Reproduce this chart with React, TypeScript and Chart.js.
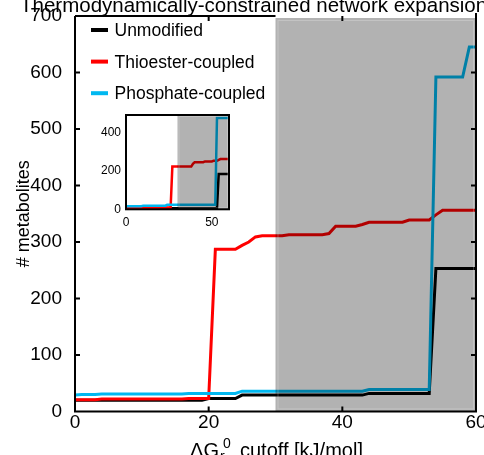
import React, { useEffect, useRef } from "react";
import { Chart, registerables } from "chart.js";
Chart.register(...registerables);

const FONT = "'Liberation Sans', Arial, Helvetica, sans-serif";

// ΔGr0 cutoff values (kJ/mol)
const cutoffs = [
  0, 1, 2, 3, 4, 5, 6, 7, 8, 9, 10, 11, 12, 13, 14, 15, 16, 17, 18, 19, 20,
  21, 22, 23, 24, 25, 26, 27, 28, 29, 30, 31, 32, 33, 34, 35, 36, 37, 38, 39, 40,
  41, 42, 43, 44, 45, 46, 47, 48, 49, 50, 51, 52, 53, 54, 55, 56, 57, 58, 59, 60,
];

// main panel series (# metabolites)
const unmodified = [
  20, 20, 20, 20, 20, 20, 20, 20, 20, 20, 20, 20, 20, 20, 20, 20, 20, 20, 20, 20,
  23, 23, 23, 23, 23,
  29, 29, 29, 29, 29, 29, 29, 29, 29, 29, 29, 29, 29, 29, 29, 29, 29, 29, 29,
  32, 32, 32, 32, 32, 32, 32, 32, 32, 32,
  253, 253, 253, 253, 253, 253, 253,
];
const thioester = [
  21, 21, 21, 21,
  22, 22, 22, 22, 22, 22, 22, 22, 22, 22, 22, 22, 22,
  23, 23, 23, 23,
  287, 287, 287, 287,
  294, 300, 309,
  311, 311, 311, 311,
  313, 313, 313, 313, 313, 313,
  315,
  328, 328, 328, 328,
  331,
  335, 335, 335, 335, 335, 335,
  339, 339, 339, 339,
  348,
  356, 356, 356, 356, 356, 356,
];
const phosphate = [
  29,
  30, 30, 30,
  31, 31, 31, 31, 31, 31, 31, 31, 31, 31, 31, 31, 31,
  32, 32, 32, 32, 32, 32, 32, 32,
  36, 36, 36, 36, 36, 36, 36, 36, 36, 36, 36, 36, 36, 36, 36, 36, 36, 36, 36,
  39, 39, 39, 39, 39, 39, 39, 39, 39, 39,
  592, 592, 592, 592, 592,
  645, 645,
];

// inset series
const insetUnmodified = [
  6, 6, 6, 6, 6, 6, 6, 6, 6, 6, 6, 6, 6, 6, 6, 6, 6, 6, 6, 6,
  6, 6, 6, 6, 6, 6, 6, 6, 6, 6, 6, 6, 6, 6, 6, 6, 6, 6, 6, 6,
  6, 6, 6, 6, 6, 6, 6, 6, 6, 6, 6, 6, 6, 6,
  183, 183, 183, 183, 183, 183, 183,
];
const insetThioester = [
  5, 5, 5, 5, 5, 5, 5, 5, 5, 5,
  7, 7, 7, 7, 7, 7, 7, 7, 7, 7,
  10, 10, 10, 10, 10, 10, 10,
  222, 222, 222, 222, 222, 222, 222, 222, 222, 222, 222, 222,
  236,
  245, 245, 245, 245, 245, 245,
  249, 249, 249, 249, 249,
  252, 252, 252,
  257,
  261, 261, 261, 261, 261, 261,
];
const insetPhosphate = [
  16, 16, 16, 16, 16, 16, 16, 16, 16, 16,
  19, 19, 19, 19, 19, 19, 19, 19, 19, 19, 19, 19, 19, 19,
  24, 24, 24, 24, 24, 24, 24, 24, 24, 24, 24, 24, 24, 24, 24, 24, 24, 24, 24, 24,
  24, 24, 24, 24, 24, 24, 24, 24, 24,
  475, 475, 475, 475, 475, 475, 475, 475,
];

const seriesNames = ["Unmodified", "Thioester-coupled", "Phosphate-coupled"];
const seriesColors = ["#000000", "#ff0000", "#00b8f0"];

const xTicks = [0, 20, 40, 60];
const yTicks = [0, 100, 200, 300, 400, 500, 600, 700];
const insetXTicks = [0, 50];
const insetYTicks = [0, 200, 400];
const shadeRange = [30, 60];

const titleText = "Thermodynamically-constrained network expansion";
const yTitle = "# metabolites";

const toXY = (vals: number[]) => cutoffs.map((x, i) => ({ x, y: vals[i] }));

const mainDecor = {
  id: "mainDecor",
  afterDatasetsDraw(chart: any) {
    const { ctx, chartArea: a, scales } = chart;
    const xs = scales.x;
    const ys = scales.y;
    ctx.save();
    // shaded region
    const sx0 = xs.getPixelForValue(shadeRange[0]);
    const sx1 = xs.getPixelForValue(shadeRange[1]);
    ctx.fillStyle = "rgba(0,0,0,0.3)";
    ctx.fillRect(sx0, a.top + 2, sx1 - sx0, a.bottom - a.top - 2);
    ctx.strokeStyle = "rgba(255,255,255,0.22)";
    ctx.lineWidth = 1;
    ctx.strokeRect(sx0 + 2.5, a.top + 4.5, sx1 - sx0 - 5, a.bottom - a.top - 7);

    // frame
    ctx.strokeStyle = "#000";
    ctx.lineWidth = 2;
    ctx.beginPath();
    ctx.moveTo(a.left, a.top);
    ctx.lineTo(a.left, a.bottom);
    ctx.lineTo(a.right, a.bottom);
    ctx.lineTo(a.right, a.top - 3);
    ctx.moveTo(a.left, a.top);
    ctx.lineTo(sx0, a.top);
    // ticks (inward)
    const tl = 5;
    yTicks.forEach((v) => {
      if (v === 0 || v === 700) return;
      const y = ys.getPixelForValue(v);
      ctx.moveTo(a.left, y);
      ctx.lineTo(a.left + tl, y);
      ctx.moveTo(a.right, y);
      ctx.lineTo(a.right - tl, y);
    });
    xTicks.forEach((v) => {
      if (v === 0 || v === 60) return;
      const x = xs.getPixelForValue(v);
      ctx.moveTo(x, a.bottom);
      ctx.lineTo(x, a.bottom - tl);
      ctx.moveTo(x, a.top);
      ctx.lineTo(x, a.top + tl);
    });
    ctx.stroke();

    // legend
    ctx.font = `17.5px ${FONT}`;
    ctx.textAlign = "left";
    ctx.textBaseline = "alphabetic";
    seriesNames.forEach((name, i) => {
      const y = 30 + i * 31.6;
      ctx.strokeStyle = seriesColors[i];
      ctx.lineWidth = 4;
      ctx.beginPath();
      ctx.moveTo(91, y);
      ctx.lineTo(108, y);
      ctx.stroke();
      ctx.fillStyle = "#000";
      ctx.fillText(name, 114.5, y + 6);
    });

    // title
    ctx.font = `20.5px ${FONT}`;
    ctx.fillStyle = "#000";
    ctx.fillText(titleText, 20, 12);

    // y title
    ctx.save();
    ctx.translate(28.5, (a.top + a.bottom) / 2);
    ctx.rotate(-Math.PI / 2);
    ctx.font = `18px ${FONT}`;
    ctx.textAlign = "center";
    ctx.fillText(yTitle, 0, 0);
    ctx.restore();

    // x title: ΔG_r^0 cutoff [kJ/mol]
    ctx.font = `20px ${FONT}`;
    const p1 = "\u0394G";
    const p2 = "cutoff [kJ/mol]";
    const w1 = ctx.measureText(p1).width;
    const w2 = ctx.measureText(p2).width;
    const gap = 21;
    const total = w1 + gap + w2;
    const x0 = (a.left + a.right) / 2 + 1 - total / 2;
    const base = 457;
    ctx.textAlign = "left";
    ctx.fillText(p1, x0, base);
    ctx.font = `italic 14px ${FONT}`;
    ctx.fillText("r", x0 + w1 + 0.5, base + 4);
    ctx.font = `14px ${FONT}`;
    ctx.fillText("0", x0 + w1 + 4, base - 9);
    ctx.font = `20px ${FONT}`;
    ctx.fillText(p2, x0 + w1 + gap, base);
    ctx.restore();
  },
};

const insetDecor = {
  id: "insetDecor",
  beforeDatasetsDraw(chart: any) {
    const { ctx, chartArea: a } = chart;
    ctx.save();
    ctx.fillStyle = "#fff";
    ctx.fillRect(a.left, a.top, a.right - a.left, a.bottom - a.top);
    ctx.restore();
  },
  afterDatasetsDraw(chart: any) {
    const { ctx, chartArea: a, scales } = chart;
    const xs = scales.x;
    ctx.save();
    const sx0 = xs.getPixelForValue(shadeRange[0]);
    const sx1 = xs.getPixelForValue(shadeRange[1]);
    ctx.fillStyle = "rgba(0,0,0,0.3)";
    ctx.fillRect(sx0, a.top, sx1 - sx0, a.bottom - a.top);
    ctx.strokeStyle = "rgba(255,255,255,0.22)";
    ctx.lineWidth = 1;
    ctx.strokeRect(sx0 + 1.5, a.top + 1.5, sx1 - sx0 - 3, a.bottom - a.top - 3);
    ctx.strokeStyle = "#000";
    ctx.lineWidth = 2;
    ctx.strokeRect(a.left, a.top, a.right - a.left, a.bottom - a.top);
    ctx.restore();
  },
};

function fixScale(kind: "x" | "y", size: number) {
  return (s: any) => {
    if (kind === "x") s.height = size;
    else s.width = size;
    s.paddingLeft = 0;
    s.paddingRight = 0;
    s.paddingTop = 0;
    s.paddingBottom = 0;
  };
}

function makeDatasets(vals: number[][], width: number) {
  return vals.map((v, i) => ({
    label: seriesNames[i],
    data: toXY(v),
    borderColor: seriesColors[i],
    backgroundColor: seriesColors[i],
    borderWidth: width,
    pointRadius: 0,
    tension: 0,
    fill: false,
    borderCapStyle: "butt" as const,
    order: 3 - i,
  }));
}

function axisOpts(min: number, max: number, ticks: number[], fontSize: number, padding: number, fit: (s: any) => void) {
  return {
    type: "linear" as const,
    min,
    max,
    afterBuildTicks: (s: any) => {
      s.ticks = ticks.map((v) => ({ value: v }));
    },
    afterFit: fit,
    grid: { display: false, drawTicks: false },
    border: { display: false },
    ticks: {
      autoSkip: false,
      maxRotation: 0,
      padding,
      color: "#000",
      font: { family: FONT, size: fontSize },
    },
  };
}

export default function App() {
  const mainRef = useRef<HTMLCanvasElement>(null);
  const insetRef = useRef<HTMLCanvasElement>(null);

  useEffect(() => {
    document.body.style.margin = "0";
    const main = new Chart(mainRef.current!, {
      type: "line",
      data: { datasets: makeDatasets([unmodified, thioester, phosphate], 3) as any },
      options: {
        animation: false,
        responsive: false,
        devicePixelRatio: 1,
        layout: { padding: { top: 16, right: 8, left: 0, bottom: 0 } },
        plugins: { legend: { display: false }, tooltip: { enabled: false }, title: { display: false } },
        scales: {
          x: axisOpts(0, 60, xTicks, 19, 0, fixScale("x", 43.5)),
          y: axisOpts(0, 700, yTicks, 19, 13, fixScale("y", 75)),
        },
      } as any,
      plugins: [mainDecor],
    });
    const inset = new Chart(insetRef.current!, {
      type: "line",
      data: { datasets: makeDatasets([insetUnmodified, insetThioester, insetPhosphate], 2.5) as any },
      options: {
        animation: false,
        responsive: false,
        devicePixelRatio: 1,
        layout: { padding: { top: 7, right: 7, left: 0, bottom: 0 } },
        plugins: { legend: { display: false }, tooltip: { enabled: false }, title: { display: false } },
        scales: {
          x: axisOpts(0, 60, insetXTicks, 12, 6, fixScale("x", 20.7)),
          y: axisOpts(0, 490, insetYTicks, 12, 5, fixScale("y", 30)),
        },
      } as any,
      plugins: [insetDecor],
    });
    return () => {
      main.destroy();
      inset.destroy();
    };
  }, []);

  return (
    <div style={{ position: "relative", width: 484, height: 455, background: "#fff" }}>
      <canvas ref={mainRef} width={484} height={455} style={{ position: "absolute", left: 0, top: 0 }} />
      <canvas ref={insetRef} width={140} height={122} style={{ position: "absolute", left: 96, top: 108 }} />
    </div>
  );
}
